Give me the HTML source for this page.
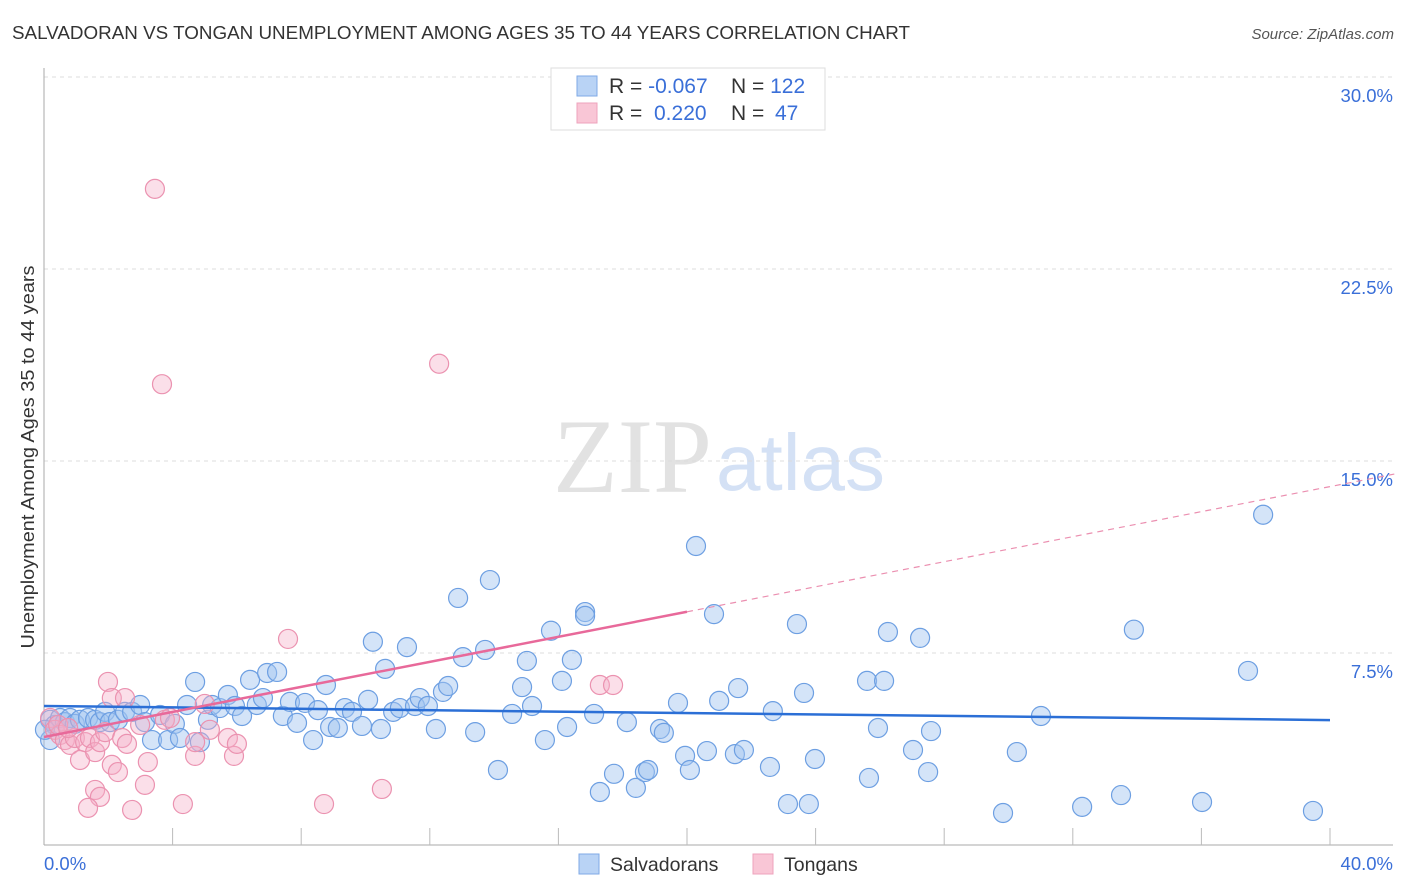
<!DOCTYPE html>
<html><head><meta charset="utf-8"><style>
body{margin:0;background:#fff;font-family:"Liberation Sans",sans-serif;}
svg{display:block}
</style></head><body>
<svg id="c" width="1406" height="892">
<text x="12" y="39" font-size="18.5" fill="#333" textLength="898" lengthAdjust="spacingAndGlyphs">SALVADORAN VS TONGAN UNEMPLOYMENT AMONG AGES 35 TO 44 YEARS CORRELATION CHART</text>
<text x="1394" y="39" font-size="15" fill="#555" font-style="italic" text-anchor="end">Source: ZipAtlas.com</text>
<text transform="translate(34,457) rotate(-90)" font-size="18" fill="#333" text-anchor="middle" textLength="383" lengthAdjust="spacingAndGlyphs">Unemployment Among Ages 35 to 44 years</text>
<text x="553" y="492" font-size="106" fill="#e2e2e2" font-family="Liberation Serif,serif">ZIP</text>
<text x="716" y="490" font-size="80" fill="#d4e1f5">atlas</text>
<g id="grid"></g>
<g id="axes"></g>
<g id="pts"></g>
<g id="trend"></g>
<g>
<rect x="551" y="68" width="274" height="62" fill="#fff" stroke="#ddd"/>
<rect x="577" y="76" width="20" height="20" fill="#b9d3f5" stroke="#7fa9e6"/>
<rect x="577" y="103" width="20" height="20" fill="#f9c6d6" stroke="#eea3bc"/>
<text x="609" y="93" font-size="21" fill="#333">R = <tspan fill="#3a6fd8">-0.067</tspan></text>
<text x="731" y="93" font-size="21" fill="#333">N = <tspan fill="#3a6fd8">122</tspan></text>
<text x="609" y="120" font-size="21" fill="#333">R = <tspan fill="#3a6fd8" x="654">0.220</tspan></text>
<text x="731" y="120" font-size="21" fill="#333">N = <tspan fill="#3a6fd8" x="775">47</tspan></text>
</g>
<g>
<rect x="579" y="854" width="20" height="20" fill="#b9d3f5" stroke="#7fa9e6"/>
<text x="610" y="871" font-size="19.5" fill="#333">Salvadorans</text>
<rect x="753" y="854" width="20" height="20" fill="#f9c6d6" stroke="#eea3bc"/>
<text x="784" y="871" font-size="19.5" fill="#333">Tongans</text>
</g>
</svg>
<script>
const yTicks=[7.5,15,22.5,30];
const yTickLabels=["7.5%","15.0%","22.5%","30.0%"];
const xTickLabels=["0.0%","40.0%"];
const blueX=[0.19,0.34,0.5,0.65,0.81,0.96,1.12,1.37,1.59,1.74,1.9,2.05,2.3,2.52,2.74,2.99,3.14,3.36,3.61,3.86,4.07,4.23,4.45,4.7,4.85,5.1,5.23,5.47,5.72,5.94,6.16,6.41,6.62,6.81,6.94,7.25,7.43,7.65,7.87,8.12,8.37,8.52,8.77,8.9,9.14,9.36,9.58,9.89,10.08,10.23,10.48,10.61,10.86,11.07,11.29,11.54,11.69,11.94,12.19,12.41,12.57,12.88,13.03,13.41,13.72,13.87,14.12,14.56,14.87,15.02,15.18,15.58,15.77,16.11,16.27,16.42,16.83,16.83,17.11,17.29,17.73,18.13,18.41,18.69,18.79,19.16,19.28,19.72,19.94,20.09,20.28,20.62,20.84,21.0,21.49,21.59,21.77,22.58,22.67,23.14,23.42,23.64,23.79,23.98,25.6,25.66,25.94,26.13,26.25,27.03,27.25,27.5,27.59,29.83,30.26,31.01,32.29,33.5,33.9,36.02,37.45,37.92,39.47,0.19,0.03];
const blueY=[4.89,4.69,4.96,4.8,4.96,4.73,4.89,4.96,4.89,4.8,5.2,4.8,4.89,5.2,5.2,5.47,4.8,4.1,5.08,4.1,4.73,4.18,5.47,6.37,4.02,4.89,5.47,5.35,5.86,5.43,5.04,6.45,5.47,5.74,6.72,6.76,5.04,5.59,4.77,5.55,4.1,5.27,6.25,4.61,4.57,5.35,5.2,4.65,5.67,7.94,4.53,6.88,5.2,5.35,7.73,5.43,5.74,5.43,4.53,5.98,6.21,9.65,7.34,4.41,7.62,10.35,2.93,5.12,6.17,7.19,5.43,4.1,8.37,6.41,4.61,7.23,9.1,8.95,5.12,2.07,2.78,4.8,2.23,2.85,2.93,4.53,4.38,5.55,3.48,2.93,11.68,3.67,9.02,5.63,3.55,6.13,3.71,3.05,5.23,1.6,8.63,5.94,1.6,3.36,6.41,2.62,4.57,6.41,8.32,3.71,8.09,2.85,4.45,1.25,3.63,5.04,1.49,1.95,8.41,1.68,6.8,12.9,1.33,4.1,4.5];
const pinkX=[3.45,3.67,12.29,7.59,1.99,2.11,2.52,5.0,0.19,0.34,0.5,0.65,0.81,0.96,1.12,1.28,1.43,1.59,1.74,1.9,2.11,2.3,2.43,2.58,3.23,2.99,3.76,3.92,4.7,4.7,5.72,5.91,6.0,5.16,17.29,17.7,1.59,1.74,1.37,2.74,3.14,4.32,8.71,10.51,0.44,0.75];
const pinkY=[25.63,18.0,18.8,8.05,6.37,5.74,5.74,5.51,4.96,4.5,4.3,4.1,3.91,4.18,3.32,4.02,4.18,3.63,4.02,4.41,3.13,2.85,4.18,3.95,3.24,4.69,4.89,4.96,3.48,4.02,4.18,3.48,3.95,4.5,6.25,6.25,2.15,1.88,1.45,1.37,2.35,1.6,1.6,2.19,4.69,4.57];
const blueTrend=[5.43,4.88];   // value at x=0, x=40
const pinkTrend=[4.22,14.0];   // value at x=0, x=40
const pinkSolidEnd=20;

const NS="http://www.w3.org/2000/svg";
const X=v=>44+v*(1286/40);
const Y=v=>845-v*25.6;
function mk(tag,attrs,parent){const e=document.createElementNS(NS,tag);for(const k in attrs)e.setAttribute(k,attrs[k]);document.getElementById(parent).appendChild(e);return e;}

yTicks.forEach((t,i)=>{
  const g=mk('line',{x1:44,x2:1393,y1:Y(t),y2:Y(t),stroke:'#dcdcdc','stroke-dasharray':'4,4'},'grid');
  
  
  const l=mk('text',{x:1393,y:Y(t)+25,'font-size':18.5,fill:'#3a6fd8','text-anchor':'end'},'grid');
  l.textContent=yTickLabels[i];
  
  
});
const ax=mk('line',{x1:44,x2:44,y1:68,y2:845,stroke:'#aaa'},'axes');


const bx=mk('line',{x1:44,x2:1393,y1:845,y2:845,stroke:'#aaa'},'axes');


for(let i=1;i<=10;i++){
  const t=mk('line',{x1:X(i*4),x2:X(i*4),y1:828,y2:845,stroke:'#bbb'},'axes');
  
  
}
const xl0=mk('text',{x:44,y:870,'font-size':18.5,fill:'#3a6fd8'},'axes');
xl0.textContent=xTickLabels[0];


const xl1=mk('text',{x:1393,y:870,'font-size':18.5,fill:'#3a6fd8','text-anchor':'end'},'axes');
xl1.textContent=xTickLabels[1];



blueX.forEach((x,i)=>{
  const c=mk('circle',{cx:X(x),cy:Y(blueY[i]),r:9.5,fill:'rgba(160,196,240,0.45)',stroke:'#6d9fe2','stroke-width':1.2},'pts');
  
  
});
pinkX.forEach((x,i)=>{
  const c=mk('circle',{cx:X(x),cy:Y(pinkY[i]),r:9.5,fill:'rgba(246,176,199,0.4)',stroke:'#eb92b0','stroke-width':1.2},'pts');
  
  
});
const bt=mk('line',{x1:X(0),y1:Y(blueTrend[0]),x2:X(40),y2:Y(blueTrend[1]),stroke:'#2b6fd6','stroke-width':2.5},'trend');


const pAt=x=>pinkTrend[0]+(pinkTrend[1]-pinkTrend[0])*x/40;
const pt=mk('line',{x1:X(0),y1:Y(pAt(0)),x2:X(pinkSolidEnd),y2:Y(pAt(pinkSolidEnd)),stroke:'#e8699a','stroke-width':2.5},'trend');


const pd=mk('line',{x1:X(pinkSolidEnd),y1:Y(pAt(pinkSolidEnd)),x2:X(42),y2:Y(pAt(42)),stroke:'#eb8fb0','stroke-width':1.2,'stroke-dasharray':'6,5'},'trend');


</script>
</body></html>
